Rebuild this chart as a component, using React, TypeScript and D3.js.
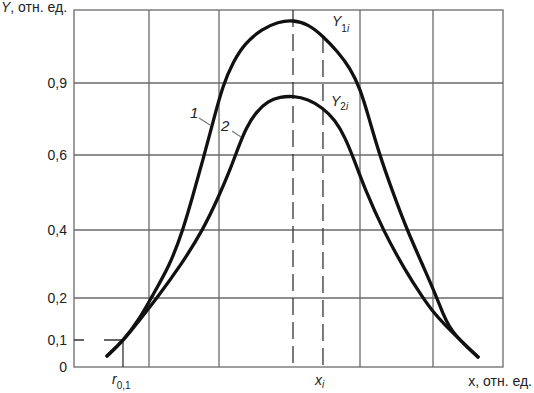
import React from "react";
import * as d3 from "d3";

// ---- data (relative units) ----
const xBreaks = [0, 1, 2, 3, 4, 5, 6];
const yBreaks = [0, 0.1, 0.2, 0.4, 0.6, 0.9, 1.2];
const yTickValues = [0, 0.1, 0.2, 0.4, 0.6, 0.9];
const yTickLabels = ["0", "0,1", "0,2", "0,4", "0,6", "0,9"];
const yGridValues = [0.2, 0.4, 0.6, 0.9];
const xGridValues = [1, 2, 4, 5];

const curve1X = [0.44, 0.653, 0.88, 1.029, 1.3, 1.486, 1.629, 1.771, 1.914, 2.056, 2.197, 2.366, 2.606, 2.831, 3.043, 3.257, 3.471, 3.686, 3.857, 4.0, 4.123, 4.26, 4.452, 4.644, 4.89, 5.057, 5.143, 5.229, 5.329, 5.457, 5.643];
const curve1Y = [0.041, 0.096, 0.152, 0.2, 0.297, 0.4, 0.493, 0.587, 0.738, 0.892, 0.986, 1.064, 1.122, 1.151, 1.159, 1.142, 1.093, 1.027, 0.962, 0.879, 0.754, 0.608, 0.499, 0.4, 0.282, 0.2, 0.162, 0.133, 0.11, 0.081, 0.037];

const curve2X = [0.44, 0.653, 0.853, 1.114, 1.457, 1.771, 2.0, 2.155, 2.268, 2.38, 2.521, 2.69, 2.859, 3.043, 3.257, 3.471, 3.643, 3.786, 3.929, 4.068, 4.315, 4.616, 4.863, 5.014, 5.171, 5.357, 5.643];
const curve2Y = [0.041, 0.096, 0.143, 0.2, 0.297, 0.4, 0.491, 0.56, 0.629, 0.7125, 0.779, 0.825, 0.842, 0.846, 0.833, 0.796, 0.746, 0.675, 0.581, 0.509, 0.4, 0.282, 0.2, 0.164, 0.136, 0.105, 0.037];

const xMax = 3.043;
const xI = 3.471;
const yAtXi = 1.093;
const r01 = 0.653;
const yLevel = 0.1;

const W = 534;
const H = 393;

const xScale = d3.scaleLinear().domain(xBreaks).range([74, 149, 219, 290, 360, 433, 503]);
const yScale = d3.scaleLinear().domain(yBreaks).range([367, 340, 298, 230, 155, 83, 10]);

const FONT = "'Liberation Sans', Arial, sans-serif";
const GRID = "#6a6a6a";

export default function App() {
  const line = d3
    .line<[number, number]>()
    .x((d) => xScale(d[0]))
    .y((d) => yScale(d[1]))
    .curve(d3.curveBasis);

  const c1 = curve1X.map((x, i) => [x, curve1Y[i]] as [number, number]);
  const c2 = curve2X.map((x, i) => [x, curve2Y[i]] as [number, number]);

  const x0 = xScale(0);
  const x6 = xScale(6);
  const y0 = yScale(0);
  const yT = yScale(1.2);

  return (
    <svg
      width={W}
      height={H}
      style={{ position: "absolute", left: 0, top: 0, background: "#fff" }}
      fontFamily={FONT}
    >
      <rect x={0} y={0} width={W} height={H} fill="#fff" />
      {/* grid */}
      {yGridValues.map((v) => (
        <line key={"gy" + v} x1={x0} x2={x6} y1={yScale(v)} y2={yScale(v)} stroke={GRID} strokeWidth={1.3} />
      ))}
      {xGridValues.map((v) => (
        <line key={"gx" + v} x1={xScale(v)} x2={xScale(v)} y1={yT} y2={y0} stroke={GRID} strokeWidth={1.3} />
      ))}
      <rect x={x0} y={yT} width={x6 - x0} height={y0 - yT} fill="none" stroke={GRID} strokeWidth={1.3} />

      {/* reference lines */}
      <line x1={xScale(xMax)} x2={xScale(xMax)} y1={yT} y2={y0} stroke="#333" strokeWidth={1.3} strokeDasharray="17,7" />
      <line x1={xScale(xI)} x2={xScale(xI)} y1={yScale(yAtXi)} y2={y0} stroke="#333" strokeWidth={1.3} strokeDasharray="17,7" />
      <line x1={x0} x2={xScale(r01)} y1={yScale(yLevel)} y2={yScale(yLevel)} stroke="#333" strokeWidth={1.3} strokeDasharray="20,20" strokeDashoffset={10} />
      <line x1={xScale(r01)} x2={xScale(r01)} y1={yScale(yLevel)} y2={y0} stroke="#333" strokeWidth={1.3} />

      {/* curves */}
      <path d={line(c1) || ""} fill="none" stroke="#111" strokeWidth={3.3} strokeLinecap="round" />
      <path d={line(c2) || ""} fill="none" stroke="#111" strokeWidth={3.3} strokeLinecap="round" />

      {/* y tick labels */}
      {yTickValues.map((v, i) => (
        <text key={"yt" + v} x={67} y={yScale(v) + 5} textAnchor="end" fontSize={14} fill="#222">
          {yTickLabels[i]}
        </text>
      ))}

      {/* axis titles */}
      <text x={1} y={12} fontSize={14} fill="#222">
        <tspan fontStyle="italic">Y</tspan>, отн. ед.
      </text>
      <text x={532} y={386} textAnchor="end" fontSize={14} fill="#222">
        x, отн. ед.
      </text>

      {/* x annotations */}
      <text x={xScale(r01) - 11} y={384} fontSize={14} fill="#222">
        <tspan fontStyle="italic">r</tspan>
        <tspan fontSize={10} dy={5}>0,1</tspan>
      </text>
      <text x={xScale(xI) - 8} y={385} fontSize={14} fill="#222">
        <tspan fontStyle="italic">x</tspan>
        <tspan fontSize={10} fontStyle="italic" dy={3}>i</tspan>
      </text>

      {/* curve labels */}
      <text x={xScale(xI) + 9} y={26} fontSize={14} fill="#222">
        <tspan fontStyle="italic">Y</tspan>
        <tspan fontSize={10} dy={6}>1</tspan>
        <tspan fontSize={10} fontStyle="italic">i</tspan>
      </text>
      <text x={xScale(xI) + 8} y={106} fontSize={14} fill="#222">
        <tspan fontStyle="italic">Y</tspan>
        <tspan fontSize={10} dy={4}>2</tspan>
        <tspan fontSize={10} fontStyle="italic">i</tspan>
      </text>

      <text x={190} y={118} fontSize={15} fontStyle="italic" fill="#222">1</text>
      <line x1={199} y1={118} x2={210} y2={125} stroke="#777" strokeWidth={1.1} />
      <text x={221} y={131} fontSize={15} fontStyle="italic" fill="#222">2</text>
      <line x1={232} y1={131} x2={241} y2={137} stroke="#777" strokeWidth={1.1} />
    </svg>
  );
}
